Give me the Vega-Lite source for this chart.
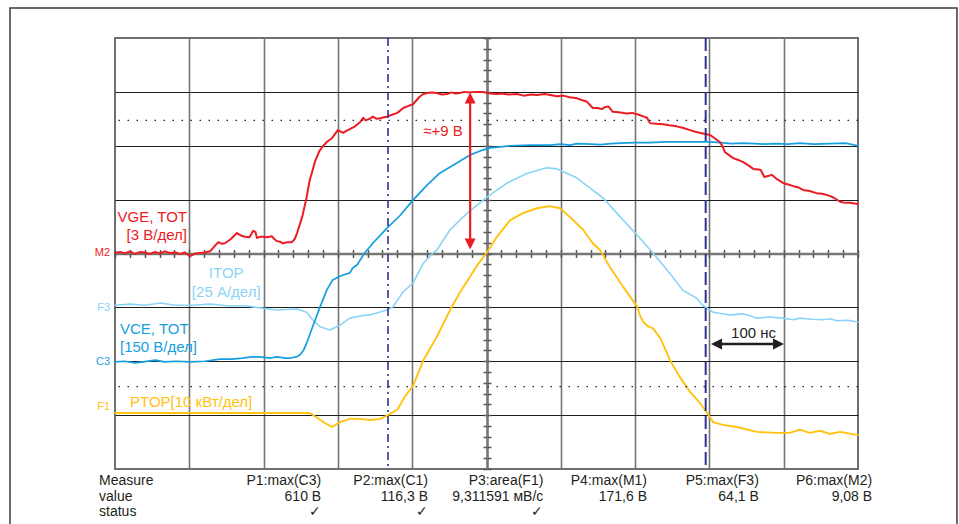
{
  "$schema": "https://vega.github.io/schema/vega-lite/v6.json",
  "width": 743,
  "height": 431,
  "autosize": {"type": "none"},
  "padding": {"left": 115, "top": 38, "right": 101, "bottom": 55},
  "background": "white",
  "config": {"view": {"stroke": "#6f6f6f", "strokeWidth": 2}, "font": "Liberation Sans", "text": {"font": "Liberation Sans"}},
  "datasets": {
    "traces": [
      {"s":"ITOP","t":0,"v":-0.96},{"s":"ITOP","t":20,"v":-0.94},{"s":"ITOP","t":40,"v":-0.96},{"s":"ITOP","t":61,"v":-0.92},{"s":"ITOP","t":81,"v":-0.96},{"s":"ITOP","t":105,"v":-0.96},{"s":"ITOP","t":128,"v":-0.94},{"s":"ITOP","t":151,"v":-0.97},{"s":"ITOP","t":175,"v":-0.97},{"s":"ITOP","t":195,"v":-1.01},{"s":"ITOP","t":218,"v":-1.05},{"s":"ITOP","t":245,"v":-1.03},{"s":"ITOP","t":258,"v":-1.09},{"s":"ITOP","t":266,"v":-1.23},{"s":"ITOP","t":276,"v":-1.36},{"s":"ITOP","t":289,"v":-1.42},{"s":"ITOP","t":303,"v":-1.33},{"s":"ITOP","t":316,"v":-1.2},{"s":"ITOP","t":330,"v":-1.16},{"s":"ITOP","t":343,"v":-1.14},{"s":"ITOP","t":366,"v":-1.05},{"s":"ITOP","t":374,"v":-0.99},{"s":"ITOP","t":388,"v":-0.71},{"s":"ITOP","t":401,"v":-0.55},{"s":"ITOP","t":415,"v":-0.18},{"s":"ITOP","t":428,"v":0.01},{"s":"ITOP","t":433,"v":0.06},{"s":"ITOP","t":451,"v":0.44},{"s":"ITOP","t":474,"v":0.75},{"s":"ITOP","t":501,"v":1.05},{"s":"ITOP","t":528,"v":1.31},{"s":"ITOP","t":555,"v":1.49},{"s":"ITOP","t":581,"v":1.59},{"s":"ITOP","t":595,"v":1.57},{"s":"ITOP","t":622,"v":1.4},{"s":"ITOP","t":639,"v":1.22},{"s":"ITOP","t":657,"v":1.03},{"s":"ITOP","t":680,"v":0.68},{"s":"ITOP","t":703,"v":0.34},{"s":"ITOP","t":724,"v":0.01},{"s":"ITOP","t":751,"v":-0.44},{"s":"ITOP","t":764,"v":-0.68},{"s":"ITOP","t":783,"v":-0.83},{"s":"ITOP","t":791,"v":-0.96},{"s":"ITOP","t":805,"v":-1.09},{"s":"ITOP","t":828,"v":-1.14},{"s":"ITOP","t":845,"v":-1.12},{"s":"ITOP","t":855,"v":-1.16},{"s":"ITOP","t":864,"v":-1.2},{"s":"ITOP","t":880,"v":-1.18},{"s":"ITOP","t":899,"v":-1.2},{"s":"ITOP","t":913,"v":-1.23},{"s":"ITOP","t":922,"v":-1.2},{"s":"ITOP","t":937,"v":-1.22},{"s":"ITOP","t":953,"v":-1.23},{"s":"ITOP","t":962,"v":-1.21},{"s":"ITOP","t":972,"v":-1.25},{"s":"ITOP","t":986,"v":-1.24},{"s":"ITOP","t":1000,"v":-1.27},
      {"s":"VCE","t":0,"v":-2.01},{"s":"VCE","t":13,"v":-2.0},{"s":"VCE","t":27,"v":-2.03},{"s":"VCE","t":38,"v":-2.01},{"s":"VCE","t":54,"v":-1.98},{"s":"VCE","t":67,"v":-2.01},{"s":"VCE","t":83,"v":-2.0},{"s":"VCE","t":101,"v":-2.01},{"s":"VCE","t":121,"v":-2.0},{"s":"VCE","t":141,"v":-1.96},{"s":"VCE","t":157,"v":-1.96},{"s":"VCE","t":172,"v":-1.94},{"s":"VCE","t":184,"v":-1.92},{"s":"VCE","t":195,"v":-1.92},{"s":"VCE","t":209,"v":-1.94},{"s":"VCE","t":218,"v":-1.92},{"s":"VCE","t":229,"v":-1.94},{"s":"VCE","t":236,"v":-1.94},{"s":"VCE","t":244,"v":-1.92},{"s":"VCE","t":249,"v":-1.88},{"s":"VCE","t":254,"v":-1.79},{"s":"VCE","t":258,"v":-1.66},{"s":"VCE","t":266,"v":-1.36},{"s":"VCE","t":276,"v":-0.99},{"s":"VCE","t":285,"v":-0.68},{"s":"VCE","t":293,"v":-0.49},{"s":"VCE","t":300,"v":-0.44},{"s":"VCE","t":307,"v":-0.4},{"s":"VCE","t":316,"v":-0.36},{"s":"VCE","t":320,"v":-0.27},{"s":"VCE","t":326,"v":-0.21},{"s":"VCE","t":336,"v":0.01},{"s":"VCE","t":347,"v":0.19},{"s":"VCE","t":366,"v":0.47},{"s":"VCE","t":384,"v":0.71},{"s":"VCE","t":401,"v":0.99},{"s":"VCE","t":420,"v":1.27},{"s":"VCE","t":437,"v":1.49},{"s":"VCE","t":455,"v":1.64},{"s":"VCE","t":465,"v":1.72},{"s":"VCE","t":478,"v":1.83},{"s":"VCE","t":495,"v":1.92},{"s":"VCE","t":505,"v":1.96},{"s":"VCE","t":518,"v":1.98},{"s":"VCE","t":532,"v":2.0},{"s":"VCE","t":559,"v":2.01},{"s":"VCE","t":585,"v":2.01},{"s":"VCE","t":600,"v":2.03},{"s":"VCE","t":612,"v":2.01},{"s":"VCE","t":622,"v":2.04},{"s":"VCE","t":640,"v":2.03},{"s":"VCE","t":653,"v":2.02},{"s":"VCE","t":668,"v":2.04},{"s":"VCE","t":680,"v":2.05},{"s":"VCE","t":700,"v":2.06},{"s":"VCE","t":720,"v":2.06},{"s":"VCE","t":740,"v":2.07},{"s":"VCE","t":760,"v":2.07},{"s":"VCE","t":780,"v":2.07},{"s":"VCE","t":801,"v":2.07},{"s":"VCE","t":815,"v":2.06},{"s":"VCE","t":830,"v":2.04},{"s":"VCE","t":845,"v":2.05},{"s":"VCE","t":860,"v":2.04},{"s":"VCE","t":875,"v":2.03},{"s":"VCE","t":890,"v":2.04},{"s":"VCE","t":905,"v":2.03},{"s":"VCE","t":922,"v":2.05},{"s":"VCE","t":940,"v":2.03},{"s":"VCE","t":962,"v":2.04},{"s":"VCE","t":983,"v":2.05},{"s":"VCE","t":1000,"v":2.0},
      {"s":"PTOP","t":0,"v":-2.96},{"s":"PTOP","t":128,"v":-2.96},{"s":"PTOP","t":249,"v":-2.96},{"s":"PTOP","t":262,"v":-2.96},{"s":"PTOP","t":272,"v":-3.05},{"s":"PTOP","t":283,"v":-3.15},{"s":"PTOP","t":292,"v":-3.22},{"s":"PTOP","t":303,"v":-3.13},{"s":"PTOP","t":316,"v":-3.07},{"s":"PTOP","t":330,"v":-3.07},{"s":"PTOP","t":343,"v":-3.09},{"s":"PTOP","t":357,"v":-3.07},{"s":"PTOP","t":366,"v":-3.01},{"s":"PTOP","t":380,"v":-2.9},{"s":"PTOP","t":390,"v":-2.66},{"s":"PTOP","t":401,"v":-2.46},{"s":"PTOP","t":415,"v":-1.98},{"s":"PTOP","t":433,"v":-1.55},{"s":"PTOP","t":451,"v":-1.05},{"s":"PTOP","t":464,"v":-0.73},{"s":"PTOP","t":487,"v":-0.23},{"s":"PTOP","t":501,"v":0.03},{"s":"PTOP","t":514,"v":0.31},{"s":"PTOP","t":532,"v":0.62},{"s":"PTOP","t":549,"v":0.75},{"s":"PTOP","t":568,"v":0.84},{"s":"PTOP","t":585,"v":0.88},{"s":"PTOP","t":599,"v":0.84},{"s":"PTOP","t":612,"v":0.68},{"s":"PTOP","t":630,"v":0.44},{"s":"PTOP","t":643,"v":0.19},{"s":"PTOP","t":653,"v":0.06},{"s":"PTOP","t":666,"v":-0.25},{"s":"PTOP","t":684,"v":-0.62},{"s":"PTOP","t":703,"v":-0.99},{"s":"PTOP","t":707,"v":-1.17},{"s":"PTOP","t":711,"v":-1.27},{"s":"PTOP","t":717,"v":-1.35},{"s":"PTOP","t":724,"v":-1.39},{"s":"PTOP","t":734,"v":-1.57},{"s":"PTOP","t":747,"v":-1.98},{"s":"PTOP","t":760,"v":-2.29},{"s":"PTOP","t":774,"v":-2.57},{"s":"PTOP","t":787,"v":-2.77},{"s":"PTOP","t":797,"v":-2.96},{"s":"PTOP","t":805,"v":-3.13},{"s":"PTOP","t":818,"v":-3.18},{"s":"PTOP","t":837,"v":-3.22},{"s":"PTOP","t":864,"v":-3.31},{"s":"PTOP","t":891,"v":-3.33},{"s":"PTOP","t":908,"v":-3.33},{"s":"PTOP","t":922,"v":-3.27},{"s":"PTOP","t":935,"v":-3.33},{"s":"PTOP","t":949,"v":-3.29},{"s":"PTOP","t":962,"v":-3.35},{"s":"PTOP","t":976,"v":-3.31},{"s":"PTOP","t":1000,"v":-3.37},
      {"s":"VGE","t":0,"v":0.01},{"s":"VGE","t":7,"v":0.03},{"s":"VGE","t":13,"v":0.0},{"s":"VGE","t":20,"v":0.04},{"s":"VGE","t":27,"v":-0.01},{"s":"VGE","t":34,"v":0.03},{"s":"VGE","t":40,"v":0.02},{"s":"VGE","t":47,"v":-0.01},{"s":"VGE","t":54,"v":0.03},{"s":"VGE","t":60,"v":0.0},{"s":"VGE","t":67,"v":0.04},{"s":"VGE","t":74,"v":0.01},{"s":"VGE","t":81,"v":0.02},{"s":"VGE","t":88,"v":-0.01},{"s":"VGE","t":94,"v":0.02},{"s":"VGE","t":101,"v":-0.05},{"s":"VGE","t":108,"v":0.0},{"s":"VGE","t":114,"v":0.01},{"s":"VGE","t":121,"v":0.02},{"s":"VGE","t":128,"v":0.04},{"s":"VGE","t":135,"v":0.15},{"s":"VGE","t":139,"v":0.21},{"s":"VGE","t":144,"v":0.18},{"s":"VGE","t":148,"v":0.19},{"s":"VGE","t":156,"v":0.27},{"s":"VGE","t":164,"v":0.38},{"s":"VGE","t":170,"v":0.33},{"s":"VGE","t":175,"v":0.31},{"s":"VGE","t":181,"v":0.3},{"s":"VGE","t":186,"v":0.42},{"s":"VGE","t":189,"v":0.4},{"s":"VGE","t":191,"v":0.29},{"s":"VGE","t":196,"v":0.31},{"s":"VGE","t":199,"v":0.31},{"s":"VGE","t":205,"v":0.3},{"s":"VGE","t":211,"v":0.32},{"s":"VGE","t":215,"v":0.26},{"s":"VGE","t":218,"v":0.23},{"s":"VGE","t":222,"v":0.22},{"s":"VGE","t":226,"v":0.19},{"s":"VGE","t":232,"v":0.21},{"s":"VGE","t":238,"v":0.21},{"s":"VGE","t":242,"v":0.27},{"s":"VGE","t":245,"v":0.38},{"s":"VGE","t":252,"v":0.68},{"s":"VGE","t":258,"v":1.05},{"s":"VGE","t":262,"v":1.36},{"s":"VGE","t":265,"v":1.5},{"s":"VGE","t":269,"v":1.7},{"s":"VGE","t":275,"v":1.9},{"s":"VGE","t":279,"v":1.98},{"s":"VGE","t":285,"v":2.07},{"s":"VGE","t":292,"v":2.14},{"s":"VGE","t":300,"v":2.29},{"s":"VGE","t":307,"v":2.24},{"s":"VGE","t":312,"v":2.28},{"s":"VGE","t":316,"v":2.31},{"s":"VGE","t":323,"v":2.36},{"s":"VGE","t":330,"v":2.44},{"s":"VGE","t":334,"v":2.52},{"s":"VGE","t":337,"v":2.47},{"s":"VGE","t":343,"v":2.5},{"s":"VGE","t":347,"v":2.54},{"s":"VGE","t":352,"v":2.5},{"s":"VGE","t":357,"v":2.51},{"s":"VGE","t":362,"v":2.53},{"s":"VGE","t":366,"v":2.54},{"s":"VGE","t":372,"v":2.57},{"s":"VGE","t":380,"v":2.61},{"s":"VGE","t":388,"v":2.7},{"s":"VGE","t":395,"v":2.74},{"s":"VGE","t":401,"v":2.77},{"s":"VGE","t":410,"v":2.91},{"s":"VGE","t":415,"v":2.96},{"s":"VGE","t":420,"v":2.98},{"s":"VGE","t":426,"v":2.99},{"s":"VGE","t":433,"v":2.98},{"s":"VGE","t":440,"v":2.95},{"s":"VGE","t":447,"v":2.96},{"s":"VGE","t":453,"v":2.99},{"s":"VGE","t":458,"v":2.97},{"s":"VGE","t":464,"v":2.98},{"s":"VGE","t":470,"v":3.0},{"s":"VGE","t":477,"v":2.99},{"s":"VGE","t":485,"v":3.0},{"s":"VGE","t":495,"v":3.0},{"s":"VGE","t":505,"v":2.97},{"s":"VGE","t":514,"v":2.96},{"s":"VGE","t":521,"v":2.97},{"s":"VGE","t":530,"v":2.95},{"s":"VGE","t":541,"v":2.96},{"s":"VGE","t":550,"v":2.93},{"s":"VGE","t":560,"v":2.95},{"s":"VGE","t":568,"v":2.94},{"s":"VGE","t":578,"v":2.96},{"s":"VGE","t":586,"v":2.94},{"s":"VGE","t":595,"v":2.92},{"s":"VGE","t":603,"v":2.93},{"s":"VGE","t":612,"v":2.9},{"s":"VGE","t":622,"v":2.88},{"s":"VGE","t":630,"v":2.84},{"s":"VGE","t":635,"v":2.82},{"s":"VGE","t":643,"v":2.7},{"s":"VGE","t":650,"v":2.7},{"s":"VGE","t":655,"v":2.68},{"s":"VGE","t":660,"v":2.72},{"s":"VGE","t":664,"v":2.73},{"s":"VGE","t":670,"v":2.63},{"s":"VGE","t":678,"v":2.62},{"s":"VGE","t":689,"v":2.6},{"s":"VGE","t":696,"v":2.61},{"s":"VGE","t":704,"v":2.58},{"s":"VGE","t":710,"v":2.55},{"s":"VGE","t":716,"v":2.52},{"s":"VGE","t":720,"v":2.42},{"s":"VGE","t":728,"v":2.41},{"s":"VGE","t":738,"v":2.4},{"s":"VGE","t":746,"v":2.38},{"s":"VGE","t":756,"v":2.36},{"s":"VGE","t":765,"v":2.33},{"s":"VGE","t":774,"v":2.29},{"s":"VGE","t":781,"v":2.26},{"s":"VGE","t":787,"v":2.24},{"s":"VGE","t":794,"v":2.22},{"s":"VGE","t":801,"v":2.2},{"s":"VGE","t":808,"v":2.13},{"s":"VGE","t":814,"v":2.07},{"s":"VGE","t":818,"v":1.98},{"s":"VGE","t":821,"v":1.88},{"s":"VGE","t":826,"v":1.83},{"s":"VGE","t":832,"v":1.77},{"s":"VGE","t":840,"v":1.73},{"s":"VGE","t":845,"v":1.7},{"s":"VGE","t":852,"v":1.64},{"s":"VGE","t":859,"v":1.57},{"s":"VGE","t":866,"v":1.56},{"s":"VGE","t":869,"v":1.55},{"s":"VGE","t":874,"v":1.42},{"s":"VGE","t":879,"v":1.44},{"s":"VGE","t":884,"v":1.46},{"s":"VGE","t":891,"v":1.38},{"s":"VGE","t":899,"v":1.31},{"s":"VGE","t":906,"v":1.28},{"s":"VGE","t":913,"v":1.25},{"s":"VGE","t":919,"v":1.23},{"s":"VGE","t":926,"v":1.18},{"s":"VGE","t":935,"v":1.16},{"s":"VGE","t":944,"v":1.12},{"s":"VGE","t":952,"v":1.11},{"s":"VGE","t":962,"v":1.07},{"s":"VGE","t":968,"v":1.03},{"s":"VGE","t":976,"v":0.96},{"s":"VGE","t":983,"v":0.94},{"s":"VGE","t":989,"v":0.94},{"s":"VGE","t":995,"v":0.93},{"s":"VGE","t":1000,"v":0.92}
    ]
  },
  "layer": [
    {
      "data": {"values": [{}]},
      "mark": {"type": "rect", "filled": false, "color": "#3a3a3a", "strokeWidth": 1.5},
      "encoding": {
        "x": {"datum": -141.3, "type": "quantitative", "scale": {"domain": [0, 1000], "nice": false, "zero": false}, "axis": null},
        "x2": {"datum": 1133.2},
        "y": {"datum": 4.557, "type": "quantitative", "scale": {"domain": [-4, 4], "nice": false, "zero": false}, "axis": null},
        "y2": {"datum": -7}
      }
    },
    {
      "data": {"name": "traces"},
      "mark": {"type": "line", "strokeJoin": "round", "strokeCap": "round"},
      "encoding": {
        "x": {"field": "t", "type": "quantitative", "scale": {"domain": [0, 1000], "nice": false, "zero": false},
              "axis": {"orient": "bottom", "values": [100, 200, 300, 400, 500, 600, 700, 800, 900], "grid": true, "gridColor": "#757575", "gridWidth": 1.6, "gridOpacity": 1, "domain": false, "ticks": false, "labels": false, "title": null}},
        "y": {"field": "v", "type": "quantitative", "scale": {"domain": [-4, 4], "nice": false, "zero": false},
              "axis": {"orient": "left", "values": [-3, -2, -1, 1, 2, 3], "grid": true, "gridColor": "#1e1e1e", "gridWidth": 1.2, "gridOpacity": 1, "domain": false, "ticks": false, "labels": false, "title": null}},
        "color": {"field": "s", "type": "nominal", "scale": {"domain": ["ITOP", "VCE", "PTOP", "VGE"], "range": ["#8ad4f5", "#159fe0", "#ffc20e", "#ec1c24"]}, "legend": null},
        "strokeWidth": {"field": "s", "type": "nominal", "scale": {"domain": ["ITOP", "VCE", "PTOP", "VGE"], "range": [1.6, 2, 2.6, 1.6]}, "legend": null}
      }
    },
    {
      "data": {"values": [{}]},
      "mark": {"type": "rule", "color": "#2e3192", "strokeWidth": 1.6, "strokeDash": [8, 4, 2, 4]},
      "encoding": {
        "x": {"datum": 367.4, "type": "quantitative", "scale": {"domain": [0, 1000], "nice": false, "zero": false},
              "axis": {"orient": "top", "offset": -215.5, "values": [0,20,40,60,80,100,120,140,160,180,200,220,240,260,280,300,320,340,360,380,400,420,440,460,480,500,520,540,560,580,600,620,640,660,680,700,720,740,760,780,800,820,840,860,880,900,920,940,960,980,1000], "grid": false, "domain": true, "domainColor": "#777777", "domainWidth": 2.5, "ticks": true, "tickSize": 4, "tickColor": "#555555", "tickWidth": 1.5, "labels": false, "title": null}}
      }
    },
    {
      "data": {"values": [{}]},
      "mark": {"type": "rule", "color": "#2e3192", "strokeWidth": 2, "strokeDash": [13, 5]},
      "encoding": {
        "x": {"datum": 795, "type": "quantitative", "scale": {"domain": [0, 1000], "nice": false, "zero": false},
              "axis": {"orient": "bottom", "offset": -215.5, "values": [0,20,40,60,80,100,120,140,160,180,200,220,240,260,280,300,320,340,360,380,400,420,440,460,480,500,520,540,560,580,600,620,640,660,680,700,720,740,760,780,800,820,840,860,880,900,920,940,960,980,1000], "grid": false, "domain": false, "ticks": true, "tickSize": 4, "tickColor": "#555555", "tickWidth": 1.5, "labels": false, "title": null}}
      }
    },
    {
      "data": {"values": [{}]},
      "mark": {"type": "rule", "color": "#222222", "strokeWidth": 1.3, "strokeDash": [1.5, 7.5]},
      "encoding": {
        "y": {"datum": 2.47, "type": "quantitative", "scale": {"domain": [-4, 4], "nice": false, "zero": false},
              "axis": {"orient": "left", "offset": -372, "values": [-4,-3.8,-3.6,-3.4,-3.2,-3,-2.8,-2.6,-2.4,-2.2,-2,-1.8,-1.6,-1.4,-1.2,-1,-0.8,-0.6,-0.4,-0.2,0,0.2,0.4,0.6,0.8,1,1.2,1.4,1.6,1.8,2,2.2,2.4,2.6,2.8,3,3.2,3.4,3.6,3.8,4], "grid": false, "domain": true, "domainColor": "#777777", "domainWidth": 2.5, "ticks": true, "tickSize": 4, "tickColor": "#555555", "tickWidth": 1.5, "labels": false, "title": null}}
      }
    },
    {
      "data": {"values": [{}]},
      "mark": {"type": "rule", "color": "#222222", "strokeWidth": 1.3, "strokeDash": [1.5, 7.5]},
      "encoding": {
        "y": {"datum": -2.47, "type": "quantitative", "scale": {"domain": [-4, 4], "nice": false, "zero": false},
              "axis": {"orient": "right", "offset": -371, "values": [-4,-3.8,-3.6,-3.4,-3.2,-3,-2.8,-2.6,-2.4,-2.2,-2,-1.8,-1.6,-1.4,-1.2,-1,-0.8,-0.6,-0.4,-0.2,0,0.2,0.4,0.6,0.8,1,1.2,1.4,1.6,1.8,2,2.2,2.4,2.6,2.8,3,3.2,3.4,3.6,3.8,4], "grid": false, "domain": false, "ticks": true, "tickSize": 4, "tickColor": "#555555", "tickWidth": 1.5, "labels": false, "title": null}}
      }
    },
    {
      "data": {"values": [{}]},
      "mark": {"type": "rule", "color": "#ec1c24", "strokeWidth": 2.2},
      "encoding": {
        "x": {"datum": 478, "type": "quantitative", "scale": {"domain": [0, 1000], "nice": false, "zero": false}, "axis": null},
        "y": {"datum": 2.886, "type": "quantitative", "scale": {"domain": [-4, 4], "nice": false, "zero": false}, "axis": null},
        "y2": {"datum": 0.176}
      }
    },
    {
      "data": {"values": [{}]},
      "mark": {"type": "point", "filled": true, "opacity": 1, "color": "#ec1c24", "size": 121, "shape": "M0,-1L1,1L-1,1Z"},
      "encoding": {
        "x": {"datum": 478, "type": "quantitative", "scale": {"domain": [0, 1000], "nice": false, "zero": false}, "axis": null},
        "y": {"datum": 2.886, "type": "quantitative", "scale": {"domain": [-4, 4], "nice": false, "zero": false}, "axis": null}
      }
    },
    {
      "data": {"values": [{}]},
      "mark": {"type": "point", "filled": true, "opacity": 1, "color": "#ec1c24", "size": 121, "shape": "M0,1L1,-1L-1,-1Z"},
      "encoding": {
        "x": {"datum": 478, "type": "quantitative", "scale": {"domain": [0, 1000], "nice": false, "zero": false}, "axis": null},
        "y": {"datum": 0.176, "type": "quantitative", "scale": {"domain": [-4, 4], "nice": false, "zero": false}, "axis": null}
      }
    },
    {
      "data": {"values": [{}]},
      "mark": {"type": "rule", "color": "#231f20", "strokeWidth": 2.5},
      "encoding": {
        "x": {"datum": 809.6, "type": "quantitative", "scale": {"domain": [0, 1000], "nice": false, "zero": false}, "axis": null},
        "x2": {"datum": 893},
        "y": {"datum": -1.68, "type": "quantitative", "scale": {"domain": [-4, 4], "nice": false, "zero": false}, "axis": null}
      }
    },
    {
      "data": {"values": [{}]},
      "mark": {"type": "point", "filled": true, "opacity": 1, "color": "#231f20", "size": 121, "shape": "M-1,0L1,-1L1,1Z"},
      "encoding": {
        "x": {"datum": 809.6, "type": "quantitative", "scale": {"domain": [0, 1000], "nice": false, "zero": false}, "axis": null},
        "y": {"datum": -1.68, "type": "quantitative", "scale": {"domain": [-4, 4], "nice": false, "zero": false}, "axis": null}
      }
    },
    {
      "data": {"values": [{}]},
      "mark": {"type": "point", "filled": true, "opacity": 1, "color": "#231f20", "size": 121, "shape": "M1,0L-1,-1L-1,1Z"},
      "encoding": {
        "x": {"datum": 893, "type": "quantitative", "scale": {"domain": [0, 1000], "nice": false, "zero": false}, "axis": null},
        "y": {"datum": -1.68, "type": "quantitative", "scale": {"domain": [-4, 4], "nice": false, "zero": false}, "axis": null}
      }
    },
    {
      "data": {"values": [{}]},
      "mark": {"type": "text", "align": "center", "baseline": "middle", "fontSize": 15, "color": "#ec1c24"},
      "encoding": {
        "x": {"datum": 441.5, "type": "quantitative", "scale": {"domain": [0, 1000], "nice": false, "zero": false}, "axis": null},
        "y": {"datum": 2.28, "type": "quantitative", "scale": {"domain": [-4, 4], "nice": false, "zero": false}, "axis": null},
        "text": {"value": "≈+9 В"}
      }
    },
    {
      "data": {"values": [{}]},
      "mark": {"type": "text", "align": "center", "baseline": "middle", "fontSize": 15, "color": "#231f20"},
      "encoding": {
        "x": {"datum": 859.4, "type": "quantitative", "scale": {"domain": [0, 1000], "nice": false, "zero": false}, "axis": null},
        "y": {"datum": -1.47, "type": "quantitative", "scale": {"domain": [-4, 4], "nice": false, "zero": false}, "axis": null},
        "text": {"value": "100 нс"}
      }
    },
    {
      "data": {"values": [{}]},
      "mark": {"type": "text", "align": "right", "baseline": "middle", "fontSize": 15, "lineHeight": 17.7, "color": "#ec1c24"},
      "encoding": {
        "x": {"datum": 96.9, "type": "quantitative", "scale": {"domain": [0, 1000], "nice": false, "zero": false}, "axis": null},
        "y": {"datum": 0.67, "type": "quantitative", "scale": {"domain": [-4, 4], "nice": false, "zero": false}, "axis": null},
        "text": {"value": ["VGE, TOT", "[3 В/дел]"]}
      }
    },
    {
      "data": {"values": [{}]},
      "mark": {"type": "text", "align": "center", "baseline": "middle", "fontSize": 15, "lineHeight": 18.4, "color": "#8ad4f5"},
      "encoding": {
        "x": {"datum": 149.7, "type": "quantitative", "scale": {"domain": [0, 1000], "nice": false, "zero": false}, "axis": null},
        "y": {"datum": -0.37, "type": "quantitative", "scale": {"domain": [-4, 4], "nice": false, "zero": false}, "axis": null},
        "text": {"value": ["ITOP", "[25 А/дел]"]}
      }
    },
    {
      "data": {"values": [{}]},
      "mark": {"type": "text", "align": "left", "baseline": "middle", "fontSize": 15, "lineHeight": 17.7, "color": "#159fe0"},
      "encoding": {
        "x": {"datum": 6.7, "type": "quantitative", "scale": {"domain": [0, 1000], "nice": false, "zero": false}, "axis": null},
        "y": {"datum": -1.4, "type": "quantitative", "scale": {"domain": [-4, 4], "nice": false, "zero": false}, "axis": null},
        "text": {"value": ["VCE, TOT", "[150 В/дел]"]}
      }
    },
    {
      "data": {"values": [{}]},
      "mark": {"type": "text", "align": "left", "baseline": "middle", "fontSize": 15, "color": "#ffc20e"},
      "encoding": {
        "x": {"datum": 20.2, "type": "quantitative", "scale": {"domain": [0, 1000], "nice": false, "zero": false}, "axis": null},
        "y": {"datum": -2.76, "type": "quantitative", "scale": {"domain": [-4, 4], "nice": false, "zero": false}, "axis": null},
        "text": {"value": "PTOP[10 кВт/дел]"}
      }
    },
    {
      "data": {"values": [{}]},
      "mark": {"type": "text", "align": "right", "baseline": "middle", "fontSize": 11, "color": "#ec1c24"},
      "encoding": {
        "x": {"datum": -6.7, "type": "quantitative", "scale": {"domain": [0, 1000], "nice": false, "zero": false}, "axis": null},
        "y": {"datum": 0.01, "type": "quantitative", "scale": {"domain": [-4, 4], "nice": false, "zero": false}, "axis": null},
        "text": {"value": "M2"}
      }
    },
    {
      "data": {"values": [{}]},
      "mark": {"type": "text", "align": "right", "baseline": "middle", "fontSize": 11, "color": "#8ad4f5"},
      "encoding": {
        "x": {"datum": -6.7, "type": "quantitative", "scale": {"domain": [0, 1000], "nice": false, "zero": false}, "axis": null},
        "y": {"datum": -1.01, "type": "quantitative", "scale": {"domain": [-4, 4], "nice": false, "zero": false}, "axis": null},
        "text": {"value": "F3"}
      }
    },
    {
      "data": {"values": [{}]},
      "mark": {"type": "text", "align": "right", "baseline": "middle", "fontSize": 11, "color": "#159fe0"},
      "encoding": {
        "x": {"datum": -6.7, "type": "quantitative", "scale": {"domain": [0, 1000], "nice": false, "zero": false}, "axis": null},
        "y": {"datum": -2.02, "type": "quantitative", "scale": {"domain": [-4, 4], "nice": false, "zero": false}, "axis": null},
        "text": {"value": "C3"}
      }
    },
    {
      "data": {"values": [{}]},
      "mark": {"type": "text", "align": "right", "baseline": "middle", "fontSize": 11, "color": "#ffc20e"},
      "encoding": {
        "x": {"datum": -6.7, "type": "quantitative", "scale": {"domain": [0, 1000], "nice": false, "zero": false}, "axis": null},
        "y": {"datum": -2.84, "type": "quantitative", "scale": {"domain": [-4, 4], "nice": false, "zero": false}, "axis": null},
        "text": {"value": "F1"}
      }
    },
    {
      "data": {"values": [{}]},
      "mark": {"type": "text", "align": "left", "baseline": "middle", "fontSize": 14, "lineHeight": 15.8, "color": "#231f20"},
      "encoding": {
        "x": {"datum": -21.5, "type": "quantitative", "scale": {"domain": [0, 1000], "nice": false, "zero": false}, "axis": null},
        "y": {"datum": -4.22, "type": "quantitative", "scale": {"domain": [-4, 4], "nice": false, "zero": false}, "axis": null},
        "text": {"value": ["Measure", "value", "status"]}
      }
    },
    {
      "data": {"values": [{}]},
      "mark": {"type": "text", "align": "right", "baseline": "middle", "fontSize": 14, "lineHeight": 15.8, "color": "#231f20"},
      "encoding": {
        "x": {"datum": 277.5, "type": "quantitative", "scale": {"domain": [0, 1000], "nice": false, "zero": false}, "axis": null},
        "y": {"datum": -4.22, "type": "quantitative", "scale": {"domain": [-4, 4], "nice": false, "zero": false}, "axis": null},
        "text": {"value": ["P1:max(C3)", "610 В", "✓\u00a0\u00a0\u00a0"]}
      }
    },
    {
      "data": {"values": [{}]},
      "mark": {"type": "text", "align": "right", "baseline": "middle", "fontSize": 14, "lineHeight": 15.8, "color": "#231f20"},
      "encoding": {
        "x": {"datum": 421.3, "type": "quantitative", "scale": {"domain": [0, 1000], "nice": false, "zero": false}, "axis": null},
        "y": {"datum": -4.22, "type": "quantitative", "scale": {"domain": [-4, 4], "nice": false, "zero": false}, "axis": null},
        "text": {"value": ["P2:max(C1)", "116,3 В", "✓\u00a0"]}
      }
    },
    {
      "data": {"values": [{}]},
      "mark": {"type": "text", "align": "right", "baseline": "middle", "fontSize": 14, "lineHeight": 15.8, "color": "#231f20"},
      "encoding": {
        "x": {"datum": 576.5, "type": "quantitative", "scale": {"domain": [0, 1000], "nice": false, "zero": false}, "axis": null},
        "y": {"datum": -4.22, "type": "quantitative", "scale": {"domain": [-4, 4], "nice": false, "zero": false}, "axis": null},
        "text": {"value": ["P3:area(F1)", "9,311591 мВ/с", "✓\u00a0\u00a0\u00a0"]}
      }
    },
    {
      "data": {"values": [{}]},
      "mark": {"type": "text", "align": "right", "baseline": "middle", "fontSize": 14, "lineHeight": 15.8, "color": "#231f20"},
      "encoding": {
        "x": {"datum": 716, "type": "quantitative", "scale": {"domain": [0, 1000], "nice": false, "zero": false}, "axis": null},
        "y": {"datum": -4.22, "type": "quantitative", "scale": {"domain": [-4, 4], "nice": false, "zero": false}, "axis": null},
        "text": {"value": ["P4:max(M1)", "171,6 В"]}
      }
    },
    {
      "data": {"values": [{}]},
      "mark": {"type": "text", "align": "right", "baseline": "middle", "fontSize": 14, "lineHeight": 15.8, "color": "#231f20"},
      "encoding": {
        "x": {"datum": 866.5, "type": "quantitative", "scale": {"domain": [0, 1000], "nice": false, "zero": false}, "axis": null},
        "y": {"datum": -4.22, "type": "quantitative", "scale": {"domain": [-4, 4], "nice": false, "zero": false}, "axis": null},
        "text": {"value": ["P5:max(F3)", "64,1 В"]}
      }
    },
    {
      "data": {"values": [{}]},
      "mark": {"type": "text", "align": "right", "baseline": "middle", "fontSize": 14, "lineHeight": 15.8, "color": "#231f20"},
      "encoding": {
        "x": {"datum": 1019, "type": "quantitative", "scale": {"domain": [0, 1000], "nice": false, "zero": false}, "axis": null},
        "y": {"datum": -4.22, "type": "quantitative", "scale": {"domain": [-4, 4], "nice": false, "zero": false}, "axis": null},
        "text": {"value": ["P6:max(M2)", "9,08 В"]}
      }
    }
  ],
  "resolve": {"axis": {"x": "independent", "y": "independent"}}
}
